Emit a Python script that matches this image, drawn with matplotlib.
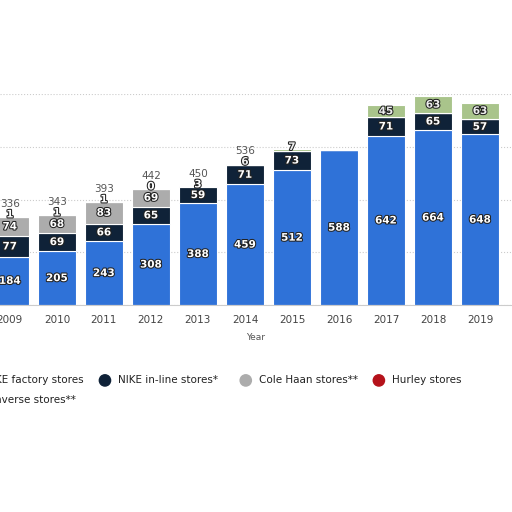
import matplotlib
matplotlib.use("Agg")
import matplotlib.pyplot as plt
import matplotlib.patheffects as pe
import matplotlib.patches as mpatches
import numpy as np

years = ["2009","2010","2011","2012","2013","2014","2015","2016","2017","2018","2019"]
factory = [184,205,243,308,388,459,512,588,642,664,648]
inline = [77,69,66,65,59,71,73,0,71,65,57]
cole = [74,68,83,69,3,0,0,0,0,0,0]
hurley = [1,1,1,0,0,0,0,0,0,0,0]
converse = [0,0,0,0,0,6,7,0,45,63,63]
totals = [336,343,393,442,450,536,None,None,None,None,None]

series = [("NIKE factory stores", factory, "#2f72d8", "white"),
          ("NIKE in-line stores*", inline, "#0f2238", "white"),
          ("Cole Haan stores**", cole, "#acacac", "white"),
          ("Hurley stores", hurley, "#b5121b", "white"),
          ("Converse stores**", converse, "#a9c48b", "#eeeeee")]

fig = plt.figure(figsize=(5.12,5.12), dpi=100)
ax = fig.add_axes([0,0.404,1,0.412])
x = np.arange(len(years))
bottom = np.zeros(len(years))
for name, vals, col, tc in series:
    v = np.array(vals, float)
    ax.bar(x, v, 0.8, bottom=bottom, color=col, edgecolor="white", linewidth=0.8, label=name)
    for i, val in enumerate(vals):
        if val > 0 or (name == "Hurley stores" and i == 3):
            ax.text(x[i], bottom[i]+v[i]/2 if v[i] > 20 else bottom[i]+v[i]+8, str(val),
                    ha="center", va="center", fontsize=7.5, fontweight="bold", color=tc,
                    path_effects=[pe.withStroke(linewidth=1.5, foreground="#222222")])
    bottom += v
for i, t in enumerate(totals):
    if t:
        ax.text(x[i], bottom[i]+28, str(t), ha="center", va="bottom", fontsize=7.5, color="#555555")
ax.set_xlim(-0.21, 10.68)
ax.set_ylim(0, 800)
ax.set_yticks([0,200,400,600,800])
ax.yaxis.grid(True, linestyle=":", color="#cccccc")
ax.set_axisbelow(True)
ax.tick_params(left=False, labelleft=False, bottom=False, labelsize=7.5, labelcolor="#444444")
ax.set_xticks(x)
ax.set_xticklabels(years)
for s in ax.spines.values():
    s.set_visible(False)
ax.spines["bottom"].set_visible(True)
ax.spines["bottom"].set_color("#cccccc")
ax.set_xlabel("Year", fontsize=6.5, color="#555555", labelpad=6)

fig.text(-0.01, 0.257, "KE factory stores", fontsize=7.5, color="#222222", va="center")
items = [(0.205, "#0f2238", "NIKE in-line stores*"), (0.48, "#acacac", "Cole Haan stores**"),
         (0.74, "#b5121b", "Hurley stores")]
for xx, c, t in items:
    fig.patches.append(mpatches.Circle((xx, 0.257), 0.011, color=c, transform=fig.transFigure, figure=fig))
    fig.text(xx+0.025, 0.257, t, fontsize=7.5, color="#222222", va="center")
fig.text(-0.01, 0.218, "nverse stores**", fontsize=7.5, color="#222222", va="center")
fig.savefig("out.png", dpi=100, facecolor="white")
